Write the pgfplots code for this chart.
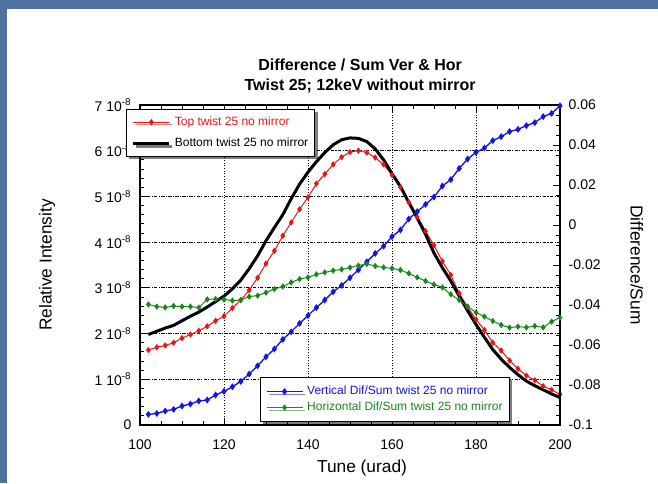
\documentclass[border=0pt]{standalone}
\usepackage{fontspec}
\setmainfont{Liberation Sans}
\usepackage{pgfplots}
\pgfplotsset{compat=1.18}
\usetikzlibrary{shadows}

\definecolor{bgblue}{RGB}{78,114,158}
\definecolor{cred}{RGB}{235,20,20}
\definecolor{cblue}{RGB}{20,20,230}
\definecolor{cgreen}{RGB}{25,135,25}

\pgfplotsset{
  twin/.style={
    at={(105pt,43.5pt)}, anchor=south west,
    scale only axis, width=315pt, height=240pt,
    xmin=100, xmax=200,
    tick align=inside,
    major tick length=5pt, minor tick length=3pt,
    tick style={black, line width=0.6pt},
    axis line style={line width=1.1pt},
    ticklabel style={font=\fontsize{10.5}{12}\selectfont},
    /pgf/number format/assume math mode=true,
    scaled ticks=false,
    label style={font=\fontsize{13}{15}\selectfont},
    legend cell align=left,
    legend image code/.code={\draw[mark repeat=2,mark phase=2,##1] plot coordinates {(0pt,0pt) (13.5pt,0pt) (27pt,0pt)};},
    clip=false,
  },
}

\begin{document}
\begin{tikzpicture}
\useasboundingbox (0pt,0pt) rectangle (493.5pt,362.25pt);
\fill[bgblue] (0pt,0pt) rectangle (493.5pt,362.25pt);
\fill[white] (5.25pt,0pt) rectangle (493.5pt,355.5pt);

% left axis: intensities
\begin{axis}[
  twin,
  ymin=0, ymax=7e-8,
  xtick={100,120,140,160,180,200}, minor x tick num=3,
  xtick pos=both, ytick pos=left,
  ytick={0,1e-8,2e-8,3e-8,4e-8,5e-8,6e-8,7e-8},
  yticklabels={0,1 10\textsuperscript{-8},2 10\textsuperscript{-8},3 10\textsuperscript{-8},4 10\textsuperscript{-8},5 10\textsuperscript{-8},6 10\textsuperscript{-8},7 10\textsuperscript{-8}},
  minor y tick num=4,
  xticklabel style={yshift=-7.5pt},
  yticklabel style={xshift=-3pt},
  grid=major,
  x grid style={black, line width=0.6pt, dash pattern=on 0.8pt off 1.2pt},
  y grid style={black, line width=0.6pt, dash pattern=on 2.5pt off 1pt on 0.8pt off 1pt},
  every axis title shift=0pt,
  title={Difference / Sum Ver \& Hor\\Twist 25; 12keV without mirror},
  title style={at={(axis description cs:0.524,1.091)}, anchor=center, align=center,
    font=\fontsize{12}{15.5}\selectfont\bfseries},
  xlabel={Tune (urad)},
  xlabel style={at={(axis description cs:0.5286,-0.135)}, anchor=center},
  ylabel={Relative Intensity},
  ylabel style={at={(axis description cs:-0.221,0.5)}, anchor=center},
  legend style={at={(axis description cs:-0.0333,0.9875)}, anchor=north west,
    draw=black, line width=0.8pt, fill=white,
    font=\fontsize{9}{10}\selectfont,
    nodes={inner sep=1pt, text height=7pt, text depth=2pt},
    column sep=2pt, row sep=5pt, inner xsep=4pt, inner ysep=4pt,
    drop shadow={fill=black, shadow xshift=2pt, shadow yshift=-2pt}},
]
\addplot[cred, line width=0.75pt, mark=diamond*, mark size=1.8pt] coordinates {
(102,1.64e-8) (104,1.70e-8) (106,1.74e-8) (108,1.80e-8) (110,1.90e-8)
(112,1.98e-8) (114,2.06e-8) (116,2.16e-8) (118,2.28e-8) (120,2.38e-8)
(122,2.56e-8) (124,2.73e-8) (126,2.95e-8) (128,3.22e-8) (130,3.53e-8)
(132,3.81e-8) (134,4.14e-8) (136,4.43e-8) (138,4.72e-8) (140,4.98e-8)
(142,5.28e-8) (144,5.49e-8) (146,5.70e-8) (148,5.86e-8) (150,5.97e-8)
(152,6.00e-8) (154,5.96e-8) (156,5.85e-8) (158,5.70e-8) (160,5.47e-8)
(162,5.20e-8) (164,4.87e-8) (166,4.55e-8) (168,4.24e-8) (170,3.93e-8)
(172,3.58e-8) (174,3.28e-8) (176,2.88e-8) (178,2.58e-8) (180,2.31e-8)
(182,2.08e-8) (184,1.80e-8) (186,1.63e-8) (188,1.41e-8) (190,1.23e-8)
(192,1.08e-8) (194,0.98e-8) (196,0.85e-8) (198,0.77e-8) (200,0.67e-8)
};
\addlegendentry{\textcolor{cred}{Top twist 25 no mirror}}
\addplot[black, line width=2.25pt, no marks] coordinates {
(102,1.98e-8) (104,2.05e-8) (106,2.12e-8) (108,2.18e-8) (110,2.28e-8)
(112,2.38e-8) (114,2.47e-8) (116,2.58e-8) (118,2.70e-8) (120,2.82e-8)
(122,2.98e-8) (124,3.17e-8) (126,3.42e-8) (128,3.70e-8) (130,4.03e-8)
(132,4.32e-8) (134,4.60e-8) (136,4.95e-8) (138,5.27e-8) (140,5.53e-8)
(142,5.76e-8) (144,5.96e-8) (146,6.13e-8) (148,6.24e-8) (150,6.28e-8)
(152,6.27e-8) (154,6.20e-8) (156,6.04e-8) (158,5.80e-8) (160,5.50e-8)
(162,5.22e-8) (164,4.87e-8) (166,4.53e-8) (168,4.17e-8) (170,3.76e-8)
(172,3.44e-8) (174,3.15e-8) (176,2.82e-8) (178,2.50e-8) (180,2.20e-8)
(182,1.92e-8) (184,1.65e-8) (186,1.44e-8) (188,1.26e-8) (190,1.10e-8)
(192,0.96e-8) (194,0.86e-8) (196,0.77e-8) (198,0.68e-8) (200,0.60e-8)
};
\addlegendentry{Bottom twist 25 no mirror}
\end{axis}

% right axis: difference / sum
\begin{axis}[
  twin,
  ymin=-0.1, ymax=0.06,
  axis x line=none, axis y line*=right,
  ytick={-0.1,-0.08,-0.06,-0.04,-0.02,0,0.02,0.04,0.06},
  yticklabels={-0.1,-0.08,-0.06,-0.04,-0.02,0,0.02,0.04,0.06},
  minor y tick num=3,
  yticklabel style={xshift=3pt},
  ylabel={Difference/Sum},
  ylabel style={at={(axis description cs:1.183,0.5)}, anchor=center, rotate=180},
  legend style={at={(axis description cs:0.2857,0.15)}, anchor=north west,
    draw=black, line width=0.8pt, fill=white,
    font=\fontsize{9}{10}\selectfont,
    nodes={inner sep=1pt, text height=7pt, text depth=2pt},
    column sep=2pt, row sep=1pt, inner xsep=4pt, inner ysep=5pt,
    drop shadow={fill=black, shadow xshift=2pt, shadow yshift=-2pt}},
]
\addplot[cblue, line width=1pt, mark=diamond*, mark size=1.8pt] coordinates {
(102,-0.0947) (104,-0.0942) (106,-0.0930) (108,-0.0922) (110,-0.0905)
(112,-0.0895) (114,-0.0880) (116,-0.0875) (118,-0.0850) (120,-0.0832)
(122,-0.0809) (124,-0.0782) (126,-0.0745) (128,-0.0704) (130,-0.0659)
(132,-0.0620) (134,-0.0572) (136,-0.0534) (138,-0.0492) (140,-0.0453)
(142,-0.0413) (144,-0.0375) (146,-0.0334) (148,-0.0302) (150,-0.0264)
(152,-0.0224) (154,-0.0184) (156,-0.0142) (158,-0.0106) (160,-0.0058)
(162,-0.0025) (164,0.0030) (166,0.0067) (168,0.0103) (170,0.0140)
(172,0.0195) (174,0.0227) (176,0.0283) (178,0.0330) (180,0.0363)
(182,0.0385) (184,0.0422) (186,0.0442) (188,0.0467) (190,0.0478)
(192,0.0497) (194,0.0512) (196,0.0542) (198,0.0558) (200,0.0596)
};
\addlegendentry{\textcolor{cblue}{Vertical Dif/Sum twist 25 no mirror}}
\addplot[cgreen, line width=0.75pt, mark=diamond*, mark size=1.8pt] coordinates {
(102,-0.0397) (104,-0.0408) (106,-0.0412) (108,-0.0405) (110,-0.0408)
(112,-0.0408) (114,-0.0413) (116,-0.0372) (118,-0.0370) (120,-0.0372)
(122,-0.0378) (124,-0.0375) (126,-0.0358) (128,-0.0353) (130,-0.0338)
(132,-0.0320) (134,-0.0308) (136,-0.0287) (138,-0.0270) (140,-0.0262)
(142,-0.0247) (144,-0.0237) (146,-0.0228) (148,-0.0222) (150,-0.0213)
(152,-0.0203) (154,-0.0195) (156,-0.0205) (158,-0.0212) (160,-0.0217)
(162,-0.0225) (164,-0.0242) (166,-0.0262) (168,-0.0280) (170,-0.0298)
(172,-0.0312) (174,-0.0347) (176,-0.0375) (178,-0.0408) (180,-0.0437)
(182,-0.0458) (184,-0.0480) (186,-0.0500) (188,-0.0513) (190,-0.0508)
(192,-0.0512) (194,-0.0505) (196,-0.0512) (198,-0.0483) (200,-0.0463)
};
\addlegendentry{\textcolor{cgreen}{Horizontal Dif/Sum twist 25 no mirror}}
\end{axis}
\end{tikzpicture}
\end{document}
